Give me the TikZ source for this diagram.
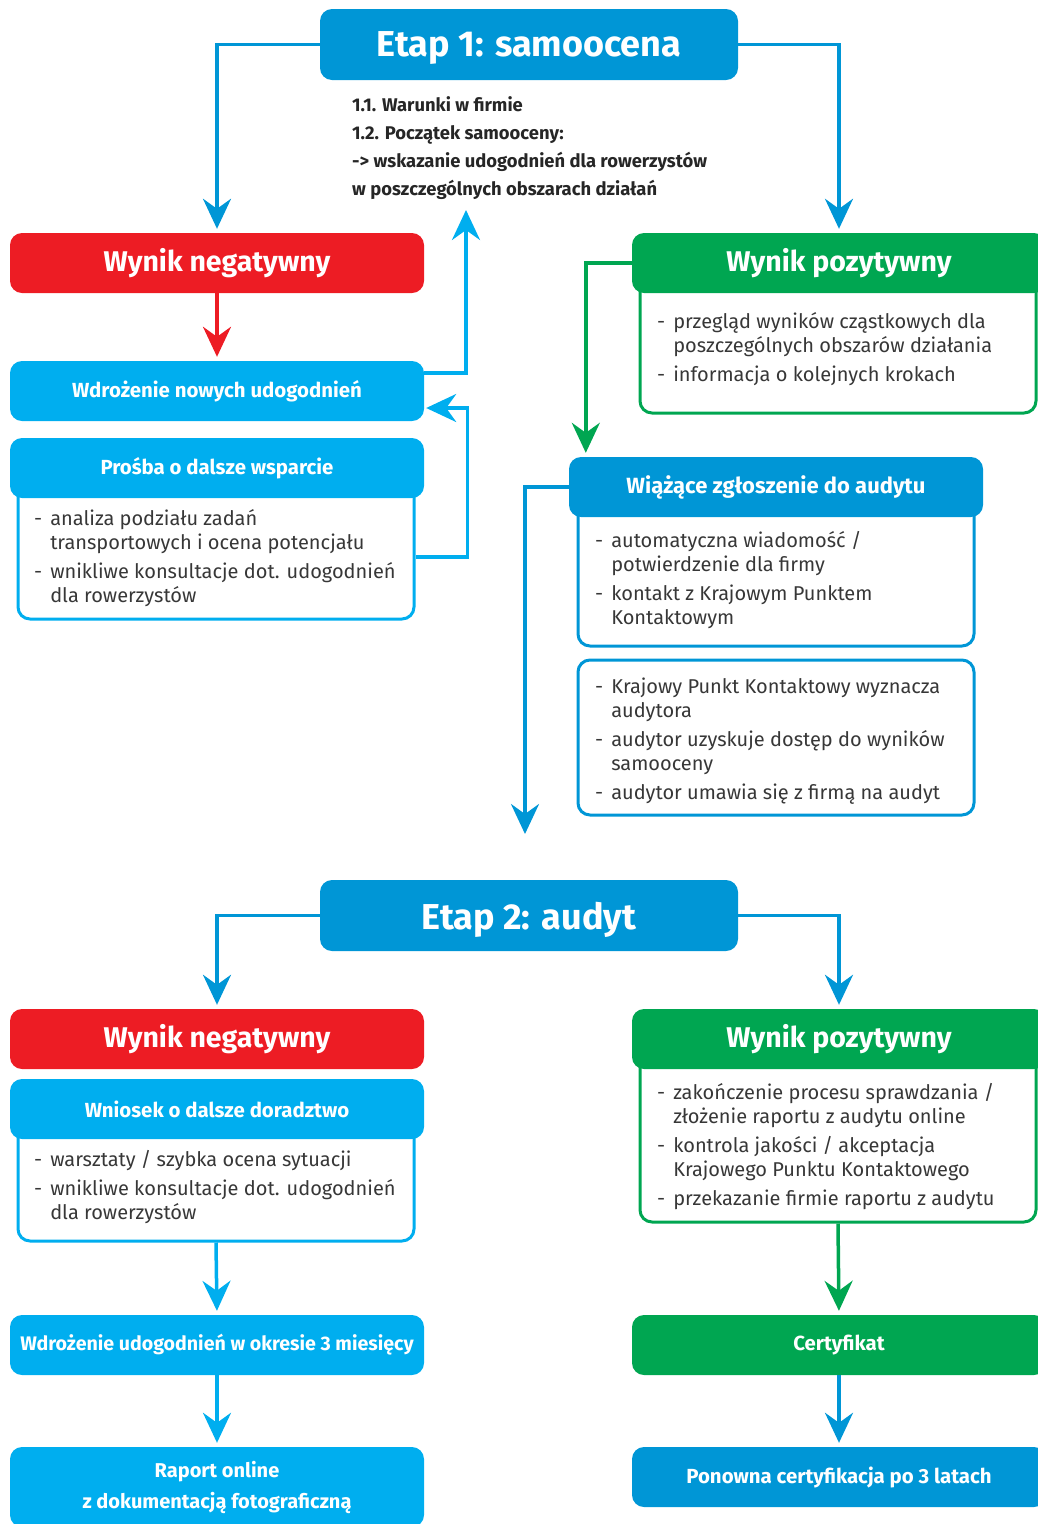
\documentclass[tikz,border=0pt]{standalone}
\usepackage{fontspec}
\setmainfont{Fira Sans}
\usetikzlibrary{arrows.meta}

\definecolor{etapblue}{RGB}{0,150,214}
\definecolor{lightblue}{RGB}{0,174,239}
\definecolor{negred}{RGB}{237,28,36}
\definecolor{posgreen}{RGB}{0,166,81}
\definecolor{txtgray}{RGB}{55,55,55}

\tikzset{
  hdr/.style={rounded corners=12pt, minimum width=414pt, minimum height=60pt, inner sep=0pt,
    text=white, font=\bfseries\fontsize{20.4}{24}\selectfont},
  etapbox/.style={hdr, fill=etapblue, minimum width=418pt, minimum height=71pt, text depth=0pt,
    font=\bfseries\fontsize{36}{42}\selectfont},
  negbox/.style={hdr, fill=negred, font=\bfseries\fontsize{28.5}{34}\selectfont},
  posbox/.style={hdr, fill=posgreen, font=\bfseries\fontsize{28.5}{34}\selectfont},
  frame/.style={draw, line width=3pt, rounded corners=12pt, minimum width=396pt, inner sep=0pt},
  items/.style={anchor=west, align=left, inner sep=0pt, text=txtgray,
    font=\fontsize{20}{24}\selectfont, yshift=-2pt},
  flow/.style={line width=3.5pt, -{Stealth[length=30pt,width=28pt,inset=10pt]}, shorten >=4pt},
}

\begin{document}
\begin{tikzpicture}[x=1pt,y=-1pt]
	\useasboundingbox (0,0) rectangle (1038,1524);

	% Etap 1
	\node[etapbox] (e1) at (529,44.5) {Etap 1: samoocena};
	\node[items, font=\bfseries\fontsize{18.4}{28}\selectfont, text=black!85] (s1) at (352,146.5)
		{1.1. Warunki w firmie\\1.2. Początek samooceny:\\-> wskazanie udogodnień dla rowerzystów\\w poszczególnych obszarach działań};

	% lewa strona
	\node[negbox] (wn1) at (217,263) {Wynik negatywny};
	\node[hdr, fill=lightblue] (wd1) at (217,391) {Wdrożenie nowych udogodnień};
	\node[frame, draw=lightblue, minimum height=149pt] (pbf) at (216,544.5) {};
	\node[items] (pbt) at (34,557.5) {\begin{tabular}{@{}l@{\hspace{8pt}}l@{}}
		- & analiza podziału zadań\\
		  & transportowych i ocena potencjału\\[5pt]
		- & wnikliwe konsultacje dot. udogodnień\\
		  & dla rowerzystów
		\end{tabular}};
	\node[hdr, fill=lightblue] (pb) at (217,468) {Prośba o dalsze wsparcie};

	% prawa strona
	\node[frame, draw=posgreen, minimum height=143pt] (wp1f) at (838,341.5) {};
	\node[items] (wp1t) at (657,348.5) {\begin{tabular}{@{}l@{\hspace{8pt}}l@{}}
		- & przegląd wyników cząstkowych dla\\
		  & poszczególnych obszarów działania\\[5pt]
		- & informacja o kolejnych krokach
		\end{tabular}};
	\node[posbox] (wp1) at (839,263) {Wynik pozytywny};

	\node[frame, draw=etapblue, minimum height=156pt] (wzf) at (776,568) {};
	\node[items] (wzt) at (595,579.5) {\begin{tabular}{@{}l@{\hspace{8pt}}l@{}}
		- & automatyczna wiadomość /\\
		  & potwierdzenie dla firmy\\[5pt]
		- & kontakt z Krajowym Punktem\\
		  & Kontaktowym
		\end{tabular}};
	\node[hdr, fill=etapblue, font=\bfseries\fontsize{22}{26}\selectfont] (wz) at (776,487) {Wiążące zgłoszenie do audytu};

	\node[frame, draw=etapblue, minimum height=155pt] (kp) at (776,737.5) {};
	\node[items] (kpt) at (595,740) {\begin{tabular}{@{}l@{\hspace{8pt}}l@{}}
		- & Krajowy Punkt Kontaktowy wyznacza\\
		  & audytora\\[5pt]
		- & audytor uzyskuje dostęp do wyników\\
		  & samooceny\\[5pt]
		- & audytor umawia się z firmą na audyt
		\end{tabular}};

	% Etap 2
	\node[etapbox] (e2) at (529,915.5) {Etap 2: audyt};

	\node[negbox] (wn2) at (217,1039) {Wynik negatywny};
	\node[frame, draw=lightblue, minimum height=131pt] (wof) at (216,1175.5) {};
	\node[items] (wot) at (34,1186.5) {\begin{tabular}{@{}l@{\hspace{8pt}}l@{}}
		- & warsztaty / szybka ocena sytuacji\\[5pt]
		- & wnikliwe konsultacje dot. udogodnień\\
		  & dla rowerzystów
		\end{tabular}};
	\node[hdr, fill=lightblue] (wo) at (217,1109) {Wniosek o dalsze doradztwo};
	\node[hdr, fill=lightblue, font=\bfseries\fontsize{19.6}{24}\selectfont] (wd2) at (217,1345) {Wdrożenie udogodnień w okresie 3 miesięcy};
	\node[hdr, fill=lightblue, minimum height=80pt, align=center,
		font=\bfseries\fontsize{20}{31}\selectfont] (ro) at (217,1487)
		{Raport online\\z dokumentacją fotograficzną};

	\node[frame, draw=posgreen, minimum height=182pt] (wp2f) at (838,1131) {};
	\node[items] (wp2t) at (657,1145.5) {\begin{tabular}{@{}l@{\hspace{8pt}}l@{}}
		- & zakończenie procesu sprawdzania /\\
		  & złożenie raportu z audytu online\\[5pt]
		- & kontrola jakości / akceptacja\\
		  & Krajowego Punktu Kontaktowego\\[5pt]
		- & przekazanie firmie raportu z audytu
		\end{tabular}};
	\node[posbox] (wp2) at (839,1039) {Wynik pozytywny};
	\node[hdr, fill=posgreen] (cert) at (839,1345) {Certyfikat};
	\node[hdr, fill=etapblue] (pc) at (839,1477) {Ponowna certyfikacja po 3 latach};

	% strzalki
	\coordinate (up1) at (466,210);
	\coordinate (down1) at (525,834);
	\draw[flow, etapblue] (e1.west) -| (wn1.north);
	\draw[flow, etapblue] (e1.east) -| (wp1.north);
	\draw[flow, negred] (wn1.south) -- (wd1.north);
	\draw[flow, lightblue, shorten >=0pt] ([yshift=18pt]wd1.east) -| (up1);
	\draw[flow, lightblue, shorten >=2pt] ([yshift=-12.5pt]pbf.east) -- ++(52,0) |- ([yshift=-17pt]wd1.east);
	\draw[flow, posgreen] (wp1.west) -| ([xshift=17pt]wz.north west);
	\draw[flow, etapblue, shorten >=0pt] (wz.west) -| (down1);

	\draw[flow, etapblue] (e2.west) -| (wn2.north);
	\draw[flow, etapblue] (e2.east) -| (wp2.north);
	\draw[flow, lightblue] (wof.south) -- (wd2.north);
	\draw[flow, lightblue] (wd2.south) -- (ro.north);
	\draw[flow, posgreen] (wp2f.south) -- (cert.north);
	\draw[flow, etapblue] (cert.south) -- (pc.north);
\end{tikzpicture}
\end{document}
